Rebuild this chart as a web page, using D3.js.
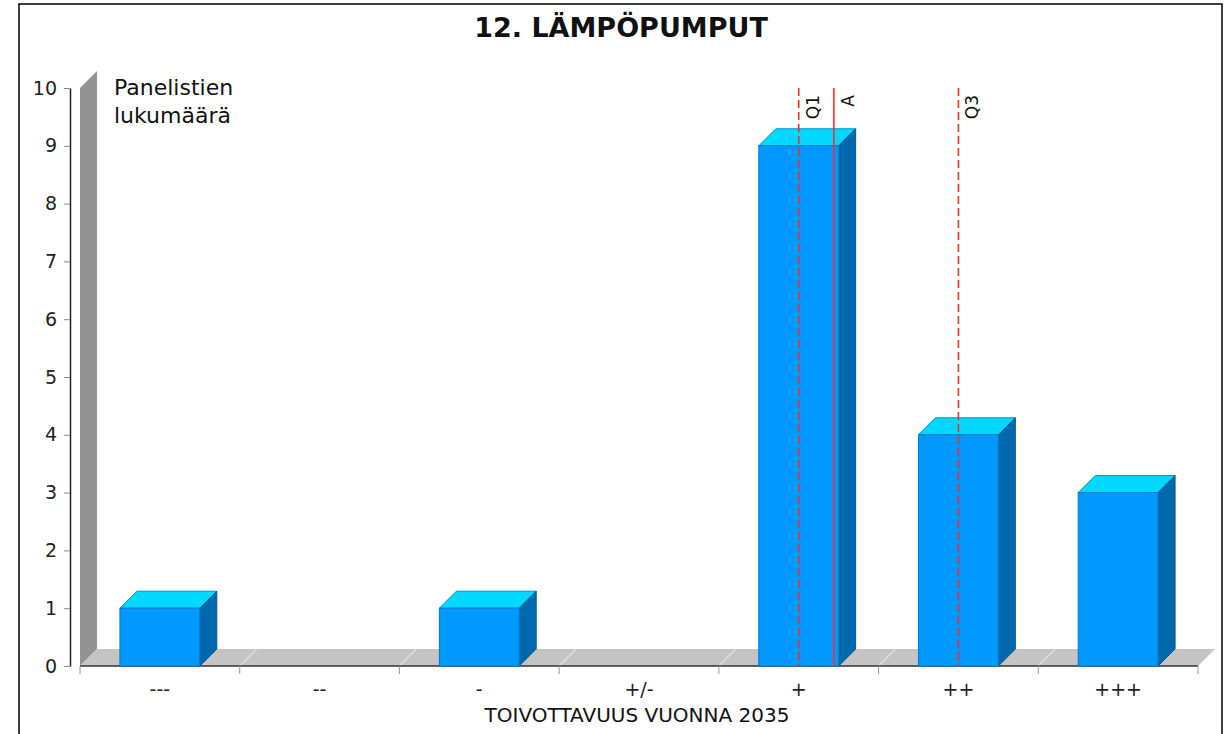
<!DOCTYPE html>
<html>
<head>
<meta charset="utf-8">
<script src="https://cdn.jsdelivr.net/npm/d3@7/dist/d3.min.js"></script>
<style>
  body { margin: 0; background: #fff; }
  svg { display: block; font-family: "DejaVu Sans", Verdana, sans-serif; }
</style>
</head>
<body>
<div class="chart"></div>
<script>
// data
const title = '12. LÄMPÖPUMPUT';
const categories = ['---', '--', '-', '+/-', '+', '++', '+++'];
const counts = [1, 0, 1, 0, 9, 4, 3];
const yTicks = [0, 1, 2, 3, 4, 5, 6, 7, 8, 9, 10];
const markerLabels = ['Q1', 'A', 'Q3'];
const markerValues = [5, 5.22, 6];   // on the 1..7 scale of the categories
const yLabel = ['Panelistien', 'lukumäärä'];
const xLabel = 'TOIVOTTAVUUS VUONNA 2035';

const width = 1226, height = 734;
const depth = 17;

const svg = d3.select('div.chart').append('svg')
    .attr('width', width)
    .attr('height', height);

svg.append('rect')
    .attr('x', 19).attr('y', 4)
    .attr('width', 1203).attr('height', 760)
    .attr('fill', '#fff')
    .attr('stroke', '#000')
    .attr('stroke-width', 1.5);

const x = d3.scaleBand().domain(categories).range([80, 1198]);
const y = d3.scaleLinear().domain([0, 10]).range([666, 88]);
const pos = d3.scaleLinear().domain([0.5, categories.length + 0.5]).range(x.range());

// title
svg.append('text')
    .attr('x', 621).attr('y', 37)
    .attr('text-anchor', 'middle')
    .attr('font-size', 27)
    .attr('font-weight', 'bold')
    .attr('fill', '#111')
    .text(title);

// left wall + floor
const x0 = x.range()[0], x1 = x.range()[1];
svg.append('path')
    .attr('d', `M${x0},${y(0)} L${x0 + depth},${y(0) - depth} L${x0 + depth},${y(10) - depth} L${x0},${y(10)} Z`)
    .attr('fill', '#929292');
svg.append('path')
    .attr('d', `M${x0},${y(0)} L${x1},${y(0)} L${x1 + depth},${y(0) - depth} L${x0 + depth},${y(0) - depth} Z`)
    .attr('fill', '#c4c4c4');

// light lines on the floor at category borders
const borders = categories.map(c => x(c)).concat([x1]);
svg.append('g').selectAll('line')
    .data(borders.slice(1, -1))
    .join('line')
    .attr('x1', d => d).attr('y1', y(0))
    .attr('x2', d => d + depth).attr('y2', y(0) - depth)
    .attr('stroke', '#e2e2e2')
    .attr('stroke-width', 1.2);

// y axis
const yAxis = svg.append('g')
    .attr('transform', 'translate(70,0)')
    .call(d3.axisLeft(y).tickValues(yTicks).tickSize(6).tickSizeOuter(0).tickPadding(7));
yAxis.select('.domain').attr('stroke', '#222').attr('stroke-width', 1.5);
yAxis.selectAll('.tick line').attr('stroke', '#888');
yAxis.selectAll('.tick text')
    .attr('font-family', '"DejaVu Sans", sans-serif')
    .attr('font-size', 19)
    .attr('fill', '#222');

// x axis labels
const xAxis = svg.append('g')
    .attr('transform', `translate(0,${y(0)})`)
    .call(d3.axisBottom(x).tickSize(0).tickPadding(17));
xAxis.select('.domain').remove();
xAxis.selectAll('.tick text')
    .attr('font-family', '"DejaVu Sans", sans-serif')
    .attr('font-size', 19)
    .attr('fill', '#222');

svg.append('line')
    .attr('x1', x0).attr('x2', x1)
    .attr('y1', y(0)).attr('y2', y(0))
    .attr('stroke', '#333')
    .attr('stroke-width', 1.5);
svg.append('g').selectAll('line')
    .data(borders)
    .join('line')
    .attr('x1', d => d).attr('x2', d => d)
    .attr('y1', y(0)).attr('y2', y(0) + 8)
    .attr('stroke', '#999');

svg.append('text')
    .attr('x', 637).attr('y', 722)
    .attr('text-anchor', 'middle')
    .attr('font-size', 20)
    .attr('fill', '#111')
    .text(xLabel);

// axis title top-left
svg.append('text')
    .attr('x', 114).attr('y', 95)
    .attr('font-size', 22)
    .attr('fill', '#111')
    .selectAll('tspan')
    .data(yLabel)
    .join('tspan')
    .attr('x', 114)
    .attr('dy', (d, i) => i ? 28 : 0)
    .text(d => d);

// 3d bars
const bw = x.bandwidth() * 0.5;
const bars = svg.append('g').selectAll('g')
    .data(categories.map((c, i) => ({c, v: counts[i]})).filter(d => d.v > 0))
    .join('g');

bars.append('path')  // top
    .attr('d', d => {
        const bx = x(d.c) + x.bandwidth() * 0.25, by = y(d.v);
        return `M${bx},${by} L${bx + depth},${by - depth} L${bx + bw + depth},${by - depth} L${bx + bw},${by} Z`;
    })
    .attr('fill', '#00d8ff')
    .attr('stroke', '#0090c0');
bars.append('path')  // side
    .attr('d', d => {
        const bx = x(d.c) + x.bandwidth() * 0.25 + bw, by = y(d.v);
        return `M${bx},${by} L${bx + depth},${by - depth} L${bx + depth},${y(0) - depth} L${bx},${y(0)} Z`;
    })
    .attr('fill', '#0068ad')
    .attr('stroke', '#005a96');
bars.append('rect')  // front
    .attr('x', d => x(d.c) + x.bandwidth() * 0.25)
    .attr('y', d => y(d.v))
    .attr('width', bw)
    .attr('height', d => y(0) - y(d.v))
    .attr('fill', '#0099ff')
    .attr('stroke', '#0078c8');

// markers Q1, A, Q3
const markers = svg.append('g').selectAll('g')
    .data(markerLabels.map((l, i) => ({l, v: markerValues[i]})))
    .join('g');
markers.append('line')
    .attr('x1', d => pos(d.v)).attr('x2', d => pos(d.v))
    .attr('y1', y(10)).attr('y2', y(0))
    .attr('stroke', '#ff2a2a')
    .attr('stroke-width', 1.6)
    .attr('stroke-dasharray', d => d.l.startsWith('Q') ? '8,4' : null);
markers.append('text')
    .attr('transform', d => `translate(${pos(d.v) + 20},95) rotate(-90)`)
    .attr('text-anchor', 'end')
    .attr('font-size', 17)
    .attr('fill', '#111')
    .text(d => d.l);
</script>
</body>
</html>
